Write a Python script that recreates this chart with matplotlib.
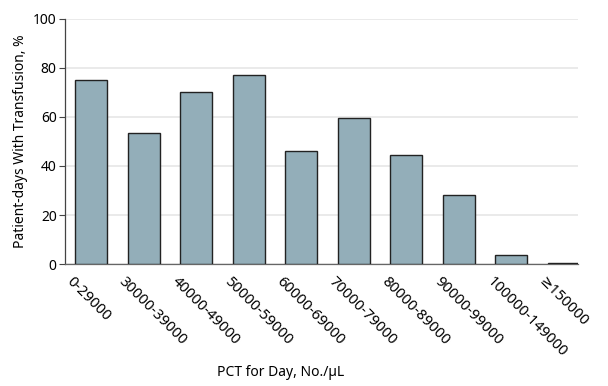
import matplotlib
matplotlib.use("Agg")
import matplotlib.pyplot as plt
import matplotlib.transforms as mtransforms
import numpy as np

plt.rcParams["font.family"] = ["Noto Sans", "DejaVu Sans"]

# Platelet count ranges and share of patient-days with transfusion
categories = ["0-29000", "30000-39000", "40000-49000", "50000-59000", "60000-69000",
              "70000-79000", "80000-89000", "90000-99000", "100000-149000", "≥150000"]
pct_transfused = [75.1, 53.6, 70.1, 77.1, 46.2, 59.7, 44.5, 28.2, 3.8, 0.5]
y_ticks = [0, 20, 40, 60, 80, 100]

fig = plt.figure(figsize=(6.08, 3.86), dpi=100)
ax = fig.add_axes([0.107, 0.316, 0.844, 0.635])

x = np.arange(len(categories))
ax.bar(x, pct_transfused, width=0.61, color="#93aeb9", edgecolor="#222222",
       linewidth=1.0, zorder=3)

ax.set_xlim(-0.495, 9.276)
ax.set_ylim(0, 100)
ax.set_yticks(y_ticks)
ax.yaxis.grid(True, color="#e6e6e6", linewidth=1.2, zorder=0)
ax.tick_params(axis="y", length=4, width=0.8, color="#444444", labelsize=10, pad=2)
ax.tick_params(axis="x", length=0, pad=4)

ax.set_xticks(x)
ax.set_xticklabels(categories, rotation=-45, ha="left", va="top",
                   rotation_mode="anchor", fontsize=10.6)
# shift the rotated labels so they start a bit left of the bar centre
shift = mtransforms.ScaledTranslation(-0.17, -0.05, fig.dpi_scale_trans)
for lbl in ax.get_xticklabels():
    lbl.set_transform(lbl.get_transform() + shift)

for side in ["top", "right"]:
    ax.spines[side].set_visible(False)
ax.spines["left"].set_color("#444444")
ax.spines["bottom"].set_color("#666666")
ax.spines["left"].set_linewidth(0.9)
ax.spines["bottom"].set_linewidth(0.9)

ax.set_ylabel("Patient-days With Transfusion, %", fontsize=10, labelpad=4)
ax.set_xlabel("PCT for Day, No./µL", fontsize=10)
ax.xaxis.set_label_coords(0.421, -0.414)

fig.savefig("out.png", dpi=100)
